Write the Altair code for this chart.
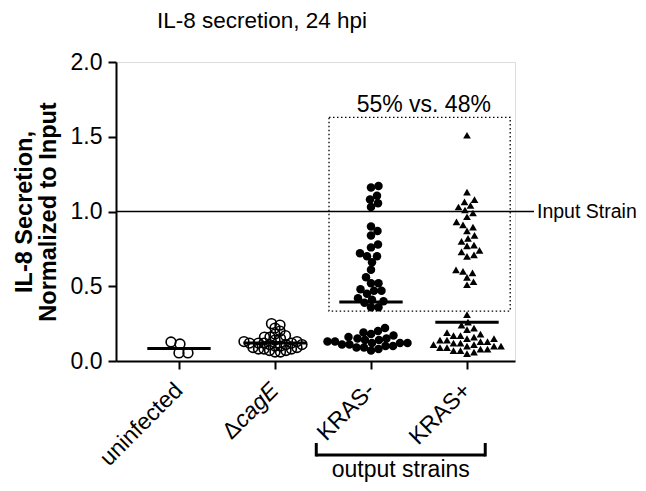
import altair as alt
import pandas as pd

# ---- data ----
groups = ["uninfected", "ΔcagE", "KRAS-", "KRAS+"]
uninfected = [0.054, 0.114, 0.127, 0.054]
dcage = [0.25, 0.24, 0.22, 0.20, 0.18, 0.17, 0.16, 0.16, 0.15, 0.14, 0.13, 0.13,
         0.12, 0.12, 0.12, 0.12, 0.11, 0.11, 0.11, 0.10, 0.10, 0.09, 0.09, 0.08,
         0.08, 0.08, 0.07, 0.07, 0.06, 0.06]
kras_neg = [1.17, 1.16, 1.105, 1.08, 1.055, 1.03, 0.90, 0.87, 0.84, 0.78, 0.76,
            0.72, 0.70, 0.70, 0.66, 0.61, 0.56, 0.52, 0.52, 0.48, 0.47, 0.47,
            0.45, 0.42, 0.41, 0.40, 0.39, 0.36, 0.36,
            0.22, 0.20, 0.19, 0.18, 0.17, 0.16, 0.15, 0.15, 0.14, 0.14, 0.13,
            0.13, 0.12, 0.12, 0.12, 0.11, 0.11, 0.10, 0.10, 0.09, 0.09, 0.08, 0.07]
kras_pos = [1.51, 1.13, 1.08, 1.065, 1.04, 1.03, 1.01, 0.99, 0.965, 0.93, 0.91,
            0.895, 0.87, 0.84, 0.82, 0.80, 0.775, 0.77, 0.74, 0.73, 0.71, 0.70,
            0.61, 0.60, 0.59, 0.56, 0.53, 0.51, 0.31,
            0.26, 0.24, 0.22, 0.21, 0.19, 0.18, 0.17, 0.17, 0.16, 0.15, 0.15,
            0.14, 0.14, 0.13, 0.13, 0.12, 0.12, 0.11, 0.11, 0.10, 0.10, 0.10,
            0.09, 0.09, 0.08, 0.08, 0.07, 0.07, 0.06, 0.05]
y_ticks = [0.0, 0.5, 1.0, 1.5, 2.0]
box_text = "55% vs. 48%"
ref_label = "Input Strain"
bracket_label = "output strains"
title_text = "IL-8 secretion, 24 hpi"

# ---- layout ----
W, H = 399, 299
X_DOM = [-0.656, 3.5]
Y_DOM = [0, 2.0]
XPX = W / (X_DOM[1] - X_DOM[0])
YPX = H / (Y_DOM[1] - Y_DOM[0])


def swarm(vals, diam):
    """simple beeswarm layout: horizontal offsets (in group units)"""
    order = sorted(range(len(vals)), key=lambda i: vals[i])
    placed, offs = [], [0.0] * len(vals)
    for i in order:
        y = vals[i] * YPX
        k = 0.0
        while True:
            found = None
            for c in ([0.0] if k == 0 else [k, -k]):
                if all((c - px) ** 2 + (y - py) ** 2 >= diam ** 2 for px, py in placed):
                    found = c
                    break
            if found is not None:
                break
            k += 0.5
        placed.append((found, y))
        offs[i] = found
    return [o / XPX for o in offs]


rows = []
for g, (vals, kind, d) in enumerate([(uninfected, "open", 9), (dcage, "open", 5.5),
                                      (kras_neg, "dot", 7.5), (kras_pos, "tri", 7)]):
    for v, o in zip(vals, swarm(vals, d)):
        rows.append({"g": g, "value": v, "xpos": g + o, "kind": kind})
df = pd.DataFrame(rows)

FONT = "Liberation Sans"
xs = alt.Scale(domain=X_DOM, nice=False, zero=False)
ys = alt.Scale(domain=Y_DOM, nice=False)

x_axis = alt.Axis(values=[0, 1, 2, 3], labels=False, title=None, grid=False,
                  tickSize=8, tickWidth=2, domainWidth=2,
                  domainColor="black", tickColor="black")
y_axis = alt.Axis(values=y_ticks, format=".1f", grid=False, labelFontSize=23,
                  labelFont=FONT, labelColor="black", labelPadding=6,
                  tickSize=8, tickWidth=2, domainWidth=2,
                  domainColor="black", tickColor="black",
                  title=["IL-8 Secretion,", "Normalized to Input"],
                  titleFont=FONT, titleFontSize=23.5, titleFontWeight="bold",
                  titleColor="black", titlePadding=10, titleLineHeight=24)


def X(f):
    return alt.X(f, scale=xs, axis=x_axis)


def Y(f):
    return alt.Y(f, scale=ys, axis=y_axis)


base = alt.Chart(df)
open_pts = base.transform_filter("datum.kind == 'open'").mark_point(
    shape="circle", filled=False, color="black", strokeWidth=1.6, size=95, opacity=1
).encode(x=X("xpos:Q"), y=Y("value:Q"))
dots = base.transform_filter("datum.kind == 'dot'").mark_circle(
    color="black", size=72, opacity=1).encode(x=X("xpos:Q"), y=Y("value:Q"))
tris = base.transform_filter("datum.kind == 'tri'").mark_point(
    shape="triangle-up", filled=True, color="black", size=60, opacity=1
).encode(x=X("xpos:Q"), y=Y("value:Q"))

medians = base.transform_aggregate(med="median(value)", groupby=["g"]).transform_calculate(
    x1="datum.g - 0.33", x2="datum.g + 0.33"
).mark_rule(color="black", strokeWidth=3).encode(
    x=X("x1:Q"), x2="x2:Q", y=Y("med:Q"))

one = alt.Data(values=[{}])
ref_line = alt.Chart(one).mark_rule(color="black", strokeWidth=1.5).encode(
    x=alt.value(0), x2=alt.value(418), y=alt.datum(1.0))
ref_txt = alt.Chart(one).mark_text(align="left", baseline="middle", fontSize=19.5,
                                   font=FONT, color="black").encode(
    x=alt.value(421), y=alt.datum(1.0), text=alt.value(ref_label))

box = alt.Chart(one).mark_rect(filled=False, stroke="black", strokeWidth=1.3,
                               strokeDash=[1.5, 2.5]).encode(
    x=alt.datum(1.5625), x2=alt.datum(3.45), y=alt.datum(0.334), y2=alt.datum(1.63))
box_txt = alt.Chart(one).mark_text(align="center", baseline="middle", fontSize=23,
                                   font=FONT, color="black").encode(
    x=alt.datum(2.55), y=alt.datum(1.71), text=alt.value(box_text))

title = alt.Chart(one).mark_text(align="center", baseline="middle", fontSize=22.5,
                                 font=FONT, color="black").encode(
    x=alt.value(146), y=alt.value(-41), text=alt.value(title_text))

lab_df = pd.DataFrame({"g": [0, 2, 3], "label": [groups[0], groups[2], groups[3]]})
xlabels = alt.Chart(lab_df).mark_text(angle=315, align="right", baseline="middle",
                                      fontSize=23, font=FONT, color="black").encode(
    x=X("g:Q"), y=alt.value(H + 26), text="label:N")
cage = alt.Chart(one).mark_text(angle=315, align="right", baseline="middle", fontSize=23,
                                font=FONT, fontStyle="italic", color="black").encode(
    x=alt.datum(1), y=alt.value(H + 26), text=alt.value("cagE"))
delta = alt.Chart(one).mark_text(angle=315, align="right", baseline="middle", fontSize=23,
                                 font=FONT, color="black", dx=-53).encode(
    x=alt.datum(1), y=alt.value(H + 26), text=alt.value("Δ"))

BR_Y = H + 94
br_h = alt.Chart(one).mark_rule(color="black", strokeWidth=3).encode(
    x=alt.datum(1.43), x2=alt.datum(3.19), y=alt.value(BR_Y))
br_l = alt.Chart(one).mark_rule(color="black", strokeWidth=3).encode(
    x=alt.datum(1.43), y=alt.value(BR_Y - 12), y2=alt.value(BR_Y + 1.5))
br_r = alt.Chart(one).mark_rule(color="black", strokeWidth=3).encode(
    x=alt.datum(3.19), y=alt.value(BR_Y - 12), y2=alt.value(BR_Y + 1.5))
br_txt = alt.Chart(one).mark_text(align="center", baseline="middle", fontSize=23,
                                  font=FONT, color="black").encode(
    x=alt.datum(2.31), y=alt.value(BR_Y + 15), text=alt.value(bracket_label))

chart = alt.layer(
    open_pts, dots, tris, medians, ref_line, ref_txt, box, box_txt, title,
    xlabels, cage, delta, br_h, br_l, br_r, br_txt
).properties(
    width=W, height=H,
    autosize=alt.AutoSizeParams(type="none"),
    padding={"left": 108, "top": 54, "right": 123, "bottom": 122},
).configure_view(stroke=None).configure(background="white")

chart.save("out.html", embed_options={"renderer": "svg", "actions": False})
